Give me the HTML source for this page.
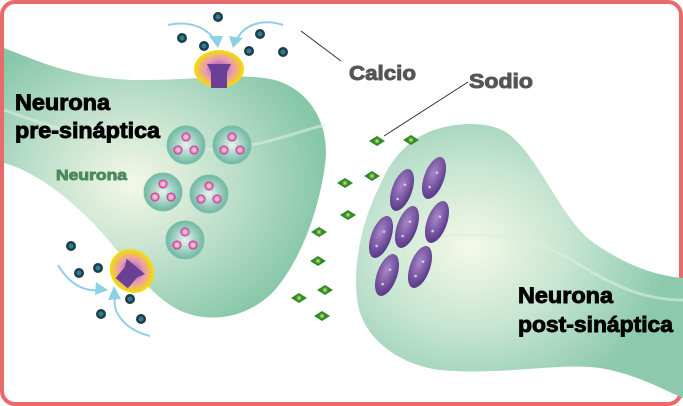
<!DOCTYPE html>
<html><head><meta charset="utf-8"><style>
html,body{margin:0;padding:0;background:#fff;}
svg{display:block;}
.b{font-family:"Liberation Sans","DejaVu Sans",sans-serif;font-weight:700;stroke-width:0.9;}
</style></head><body>
<svg width="683" height="406" viewBox="0 0 683 406" xmlns="http://www.w3.org/2000/svg">
<defs>
<radialGradient id="g1" cx="0.4" cy="0.5" r="0.6"><stop offset="0" stop-color="#f4f8e6"/><stop offset="0.5" stop-color="#bfe0cc"/><stop offset="1" stop-color="#86c7a8"/></radialGradient>
<radialGradient id="g2" cx="0.35" cy="0.45" r="0.6"><stop offset="0" stop-color="#f6f9e8"/><stop offset="0.5" stop-color="#c6e5d2"/><stop offset="1" stop-color="#8dcaad"/></radialGradient>
<radialGradient id="ves" cx="0.5" cy="0.5" r="0.5"><stop offset="0" stop-color="#e6f4ee"/><stop offset="1" stop-color="#6fb8a3"/></radialGradient>
<radialGradient id="pk" cx="0.5" cy="0.5" r="0.5"><stop offset="0" stop-color="#fbe0ee"/><stop offset="0.6" stop-color="#f08fc0"/><stop offset="1" stop-color="#c0147c"/></radialGradient>
<radialGradient id="yl" cx="0.5" cy="0.5" r="0.5"><stop offset="0" stop-color="#a04aa8"/><stop offset="0.55" stop-color="#e89ab8"/><stop offset="1" stop-color="#f5e000"/></radialGradient>
<radialGradient id="pu" cx="0.4" cy="0.4" r="0.6"><stop offset="0" stop-color="#a987c8"/><stop offset="1" stop-color="#5c3a8a"/></radialGradient>
<radialGradient id="dg" cx="0.5" cy="0.5" r="0.5"><stop offset="0" stop-color="#e8e870"/><stop offset="1" stop-color="#2e8a2a"/></radialGradient>
<g id="ion"><circle r="5" fill="#1f3d4a"/><circle r="2.5" fill="#2f7d92"/></g>
<g id="na"><path d="M-8,0 L0,-5 L8,0 L0,5Z" fill="#2e8a2a"/><circle r="3" fill="url(#dg)"/></g>
<g id="vs"><circle r="19" fill="url(#ves)" stroke="#7cbfa8"/><circle cx="0" cy="-8" r="4.5" fill="url(#pk)"/><circle cx="-8" cy="5" r="4.5" fill="url(#pk)"/><circle cx="8" cy="5" r="4.5" fill="url(#pk)"/></g>
<g id="rc"><ellipse rx="10" ry="22" fill="url(#pu)"/><circle cx="1" cy="-6" r="1.3" fill="#d8c8ee"/><circle cx="-1" cy="10" r="1.3" fill="#d8c8ee"/></g>
</defs>
<rect x="2" y="2" width="679" height="402" rx="13" fill="#fff" stroke="#e86a6a" stroke-width="4"/>
<path d="M4,48 C40,62 80,80 140,80 C200,80 240,72 275,80 C315,92 330,130 325,165 C318,215 300,260 275,290 C245,322 200,325 170,305 C140,285 120,250 90,220 C60,190 30,170 4,163 Z" fill="url(#g1)"/>
<path d="M4,110 C60,130 120,150 200,150 C260,150 300,130 325,125" stroke="#d8eedf" stroke-width="3" fill="none" opacity="0.6"/>
<path d="M470,124 C420,125 395,150 380,185 C360,225 352,270 358,305 C365,340 400,365 440,370 C500,376 560,362 600,368 C635,374 660,388 683,398 L683,278 C650,275 620,262 590,240 C560,215 540,160 510,135 C500,127 485,124 470,124 Z" fill="url(#g2)"/>
<path d="M380,250 C440,230 520,225 580,265 C620,290 650,300 683,300" stroke="#d8eedf" stroke-width="3" fill="none" opacity="0.6"/>
<use href="#vs" x="186" y="145"/><use href="#vs" x="232" y="145"/><use href="#vs" x="163" y="192"/><use href="#vs" x="209" y="194"/><use href="#vs" x="185" y="240"/>
<ellipse cx="219" cy="69" rx="25" ry="19" fill="url(#yl)"/>
<path d="M207,64 h24 l-4,8 v16 h-16 v-16 z" fill="#6a3f96"/>
<g transform="translate(132,271) rotate(40)"><ellipse rx="23" ry="21" fill="url(#yl)"/><path d="M-12,-6 h24 l-4,8 v14 h-16 v-14 z" fill="#6a3f96"/></g>
<g stroke="#8fd0e4" stroke-width="2" fill="none">
<path d="M168,25 C190,20 208,28 216,42"/><path d="M283,25 C262,18 242,25 236,42"/>
<path d="M58,265 C70,285 85,292 100,290"/><path d="M150,336 C125,330 112,312 115,298"/>
</g>
<g fill="#8fd0e4"><path d="M209,36 l14,0 l-5,12z"/><path d="M229,36 l14,2 l-10,10z"/><path d="M96,282 l12,8 l-13,5z"/><path d="M108,300 l6,-14 l7,13z"/></g>
<use href="#ion" x="218" y="17"/><use href="#ion" x="182" y="38"/><use href="#ion" x="204" y="46"/><use href="#ion" x="260" y="34"/><use href="#ion" x="249" y="51"/><use href="#ion" x="283" y="52"/>
<use href="#ion" x="71" y="246"/><use href="#ion" x="79" y="273"/><use href="#ion" x="98" y="268"/><use href="#ion" x="130" y="299"/><use href="#ion" x="101" y="314"/><use href="#ion" x="141" y="319"/>
<use href="#na" x="377" y="141"/><use href="#na" x="411" y="140"/><use href="#na" x="345" y="183"/><use href="#na" x="372" y="176"/><use href="#na" x="348" y="215"/><use href="#na" x="319" y="232"/><use href="#na" x="318" y="261"/><use href="#na" x="325" y="290"/><use href="#na" x="299" y="298"/><use href="#na" x="322" y="316"/>
<use href="#rc" transform="translate(402,190) rotate(20)"/><use href="#rc" transform="translate(434,178) rotate(20)"/>
<use href="#rc" transform="translate(407,227) rotate(20)"/><use href="#rc" transform="translate(437,222) rotate(20)"/>
<use href="#rc" transform="translate(381,237) rotate(20)"/><use href="#rc" transform="translate(387,275) rotate(20)"/><use href="#rc" transform="translate(420,267) rotate(20)"/>
<line x1="301" y1="31" x2="341" y2="61" stroke="#333" stroke-width="1"/>
<line x1="384" y1="136" x2="468" y2="82" stroke="#333" stroke-width="1"/>
<text class="b" x="349" y="80" font-size="20" fill="#555" stroke="#555" textLength="67" lengthAdjust="spacingAndGlyphs">Calcio</text>
<text class="b" x="469" y="88" font-size="20" fill="#555" stroke="#555" textLength="64" lengthAdjust="spacingAndGlyphs">Sodio</text>
<text class="b" x="15" y="110" font-size="22" fill="#000" stroke="#000" textLength="95" lengthAdjust="spacingAndGlyphs">Neurona</text>
<text class="b" x="15" y="138" font-size="22" fill="#000" stroke="#000" textLength="145" lengthAdjust="spacingAndGlyphs">pre-sináptica</text>
<text class="b" x="56" y="180" font-size="15" fill="#4a8a5e" stroke="#4a8a5e" textLength="71" lengthAdjust="spacingAndGlyphs">Neurona</text>
<text class="b" x="518" y="303" font-size="22" fill="#000" stroke="#000" textLength="95" lengthAdjust="spacingAndGlyphs">Neurona</text>
<text class="b" x="518" y="332" font-size="22" fill="#000" stroke="#000" textLength="155" lengthAdjust="spacingAndGlyphs">post-sináptica</text>
</svg>
</body></html>
